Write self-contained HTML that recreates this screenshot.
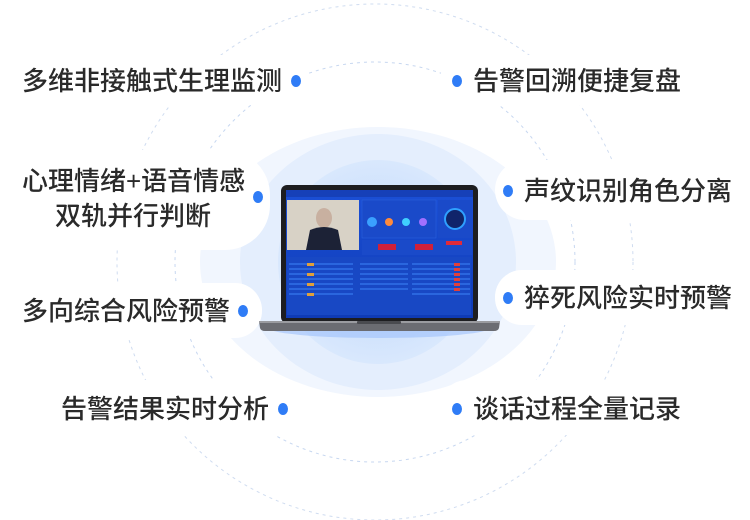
<!DOCTYPE html>
<html><head><meta charset="utf-8"><style>
html,body{margin:0;padding:0;background:#fff;}
.w{position:relative;width:750px;height:520px;overflow:hidden;font-family:"Liberation Sans","Noto Sans CJK SC",sans-serif;}
.t{position:absolute;font-size:26px;font-weight:500;color:#2a2a2a;white-space:nowrap;line-height:30px;}
.d{position:absolute;width:10px;height:12px;border-radius:50%;background:#2f7cf6;}
</style></head><body><div class="w">
<svg width="750" height="520" style="position:absolute;left:0;top:0">
<defs>
<radialGradient id="g1" cx="50%" cy="50%" r="50%"><stop offset="0" stop-color="#bcd6fb"/><stop offset="1" stop-color="#d9e8fd"/></radialGradient>
<linearGradient id="scr" x1="0" y1="0" x2="0" y2="1"><stop offset="0" stop-color="#1b4fd6"/><stop offset="1" stop-color="#0f3bb5"/></linearGradient>
</defs>
<circle cx="375" cy="262" r="258" fill="none" stroke="#cfdcf0" stroke-dasharray="3 4"/>
<circle cx="375" cy="262" r="200" fill="none" stroke="#c7d7f0" stroke-dasharray="3 4"/>
<ellipse cx="378" cy="262" rx="178" ry="135" fill="#f1f6fe"/>
<ellipse cx="378" cy="262" rx="138" ry="128" fill="#e4eefd"/>
<ellipse cx="378" cy="262" rx="100" ry="102" fill="url(#g1)"/>
<rect x="0" y="55" width="310" height="50" rx="25" fill="#fff"/>
<rect x="440" y="55" width="310" height="50" rx="25" fill="#fff"/>
<rect x="0" y="150" width="270" height="100" rx="45" fill="#fff"/>
<rect x="495" y="160" width="255" height="60" rx="30" fill="#fff"/>
<rect x="0" y="283" width="262" height="55" rx="27" fill="#fff"/>
<rect x="495" y="270" width="255" height="55" rx="27" fill="#fff"/>
<rect x="0" y="380" width="300" height="55" rx="27" fill="#fff"/>
<rect x="440" y="380" width="310" height="55" rx="27" fill="#fff"/>
<ellipse cx="379" cy="328" rx="110" ry="10" fill="#9cc0fb" opacity="0.6"/>
<rect x="281" y="185" width="197" height="138" rx="6" fill="#1d1d20"/>
<rect x="286" y="190" width="187" height="128" fill="url(#scr)"/>
<rect x="286" y="190" width="187" height="7" fill="#1640b8"/>
<rect x="287" y="200" width="72" height="50" fill="#d8d2c6"/>
<ellipse cx="324" cy="218" rx="8" ry="10" fill="#c8b0a0"/>
<path d="M306 250 L310 230 Q324 224 338 230 L342 250 Z" fill="#1c2236"/>
<rect x="362" y="200" width="74" height="38" fill="#1a4ac9" stroke="#2a64e0" stroke-width="0.5"/>
<rect x="438" y="200" width="34" height="38" fill="#1a4ac9"/>
<circle cx="455" cy="219" r="10" fill="#10246a" stroke="#2fa0ff" stroke-width="2"/>
<circle cx="372" cy="222" r="5" fill="#3aa0ff"/><circle cx="389" cy="222" r="4" fill="#ff8a3a"/><circle cx="406" cy="222" r="4" fill="#3fd0ff"/><circle cx="423" cy="222" r="4" fill="#a070ff"/>
<rect x="362" y="240" width="110" height="15" fill="#1a4ac9"/>
<rect x="378" y="244" width="18" height="6" fill="#d0203a"/><rect x="415" y="244" width="18" height="6" fill="#d0203a"/><rect x="446" y="241" width="16" height="4" fill="#e02a3a"/>
<rect x="287" y="257" width="184" height="58" fill="#1848c4"/>
<g fill="#2a66de">
<rect x="289" y="263" width="64" height="2"/><rect x="289" y="268" width="64" height="2"/><rect x="289" y="273" width="64" height="2"/><rect x="289" y="278" width="64" height="2"/><rect x="289" y="283" width="64" height="2"/><rect x="289" y="288" width="64" height="2"/><rect x="289" y="293" width="64" height="2"/>
<rect x="360" y="263" width="48" height="2"/><rect x="360" y="268" width="48" height="2"/><rect x="360" y="273" width="48" height="2"/><rect x="360" y="278" width="48" height="2"/><rect x="360" y="283" width="48" height="2"/><rect x="360" y="288" width="48" height="2"/>
<rect x="412" y="263" width="58" height="2"/><rect x="412" y="268" width="58" height="2"/><rect x="412" y="273" width="58" height="2"/><rect x="412" y="278" width="58" height="2"/><rect x="412" y="283" width="58" height="2"/><rect x="412" y="288" width="58" height="2"/><rect x="412" y="293" width="58" height="2"/>
</g>
<g fill="#e0403a"><rect x="454" y="263" width="6" height="3"/><rect x="454" y="268" width="6" height="3"/><rect x="454" y="273" width="6" height="3"/><rect x="454" y="278" width="6" height="3"/><rect x="454" y="283" width="6" height="3"/><rect x="454" y="288" width="6" height="3"/></g>
<g fill="#e0a03a"><rect x="307" y="263" width="7" height="3"/><rect x="307" y="273" width="7" height="3"/><rect x="307" y="283" width="7" height="3"/><rect x="307" y="293" width="7" height="3"/></g>
<path d="M259 321 L500 321 L499 328 Q498 331 494 331 L265 331 Q261 331 260 328 Z" fill="#6b6c72"/>
<rect x="259" y="321" width="241" height="2" fill="#9a9ba0"/>
<rect x="357" y="321" width="44" height="3" rx="1" fill="#4a4b50"/>
</svg>
<div class="t" style="left:22px;top:66px">多维非接触式生理监测</div><div class="d" style="left:291px;top:75px"></div>
<div class="t" style="left:473px;top:66px">告警回溯便捷复盘</div><div class="d" style="left:452px;top:75px"></div>
<div class="t" style="left:22px;top:166px">心理情绪+语音情感</div>
<div class="t" style="left:55px;top:201px">双轨并行判断</div><div class="d" style="left:253px;top:191px"></div>
<div class="t" style="left:524px;top:176px">声纹识别角色分离</div><div class="d" style="left:503px;top:185px"></div>
<div class="t" style="left:22px;top:296px">多向综合风险预警</div><div class="d" style="left:238px;top:305px"></div>
<div class="t" style="left:524px;top:283px">猝死风险实时预警</div><div class="d" style="left:503px;top:292px"></div>
<div class="t" style="left:61px;top:394px">告警结果实时分析</div><div class="d" style="left:278px;top:403px"></div>
<div class="t" style="left:473px;top:394px">谈话过程全量记录</div><div class="d" style="left:452px;top:403px"></div>
</div></body></html>
